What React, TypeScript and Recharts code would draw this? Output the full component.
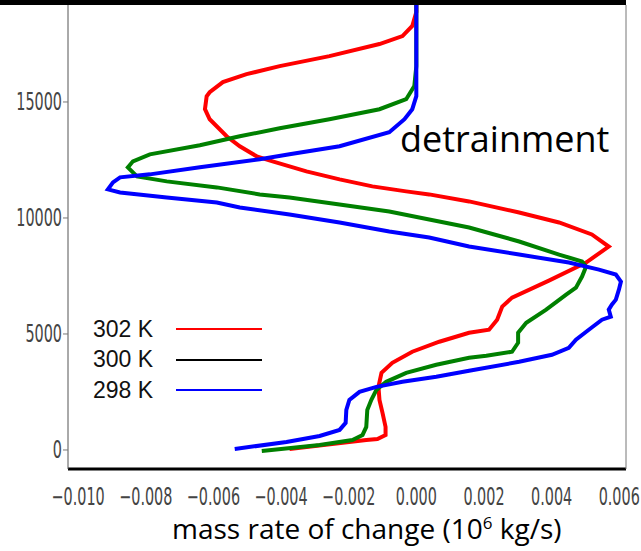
import React from 'react';
import { ScatterChart, Scatter, XAxis, YAxis } from 'recharts';

// mass rate of change (10^6 kg/s) vs height (m)
const profile302: [number, number][] = [
  [-0.00375, 43], [-0.00148, 432], [-0.00115, 475], [-0.00091, 648], [-0.00091, 994],
  [-0.001, 1598], [-0.00109, 2160], [-0.00112, 2722], [-0.00103, 3326], [-0.00071, 3758],
  [-0.00012, 4234], [0.00068, 4666], [0.00156, 5054], [0.00215, 5184], [0.00239, 5616],
  [0.00254, 6178], [0.00283, 6566], [0.00392, 7301], [0.00502, 8078], [0.00569, 8770],
  [0.00519, 9288], [0.00422, 9806], [0.00304, 10238], [0.00156, 10714], [0.00038, 11016],
  [-0.0003, 11146], [-0.0013, 11362], [-0.00227, 11664], [-0.00325, 12010], [-0.00425, 12442],
  [-0.00472, 12658], [-0.00522, 13090], [-0.00561, 13522], [-0.00611, 14256], [-0.00625, 14688],
  [-0.0062, 15250], [-0.00611, 15422], [-0.00572, 15854], [-0.00502, 16200], [-0.00404, 16546],
  [-0.00257, 16978], [-0.00109, 17496], [-0.00041, 17842], [-0.00012, 18274], [0, 18878],
  [0, 19200],
];

const profile300: [number, number][] = [
  [-0.00457, -43], [-0.00286, 216], [-0.00189, 432], [-0.00159, 648], [-0.00148, 994],
  [-0.00145, 1728], [-0.00133, 2160], [-0.00118, 2592], [-0.00089, 2938], [-0.0003, 3326],
  [0.00059, 3672], [0.00156, 3974], [0.00207, 4061], [0.00283, 4234], [0.00301, 4622],
  [0.00301, 5054], [0.00325, 5486], [0.00384, 6048], [0.00443, 6696], [0.00472, 6998],
  [0.0049, 7474], [0.00502, 7906], [0.0049, 8122], [0.00422, 8424], [0.00304, 8986],
  [0.00156, 9590], [0.00038, 9936], [-0.0008, 10282], [-0.00227, 10584], [-0.00375, 10886],
  [-0.00463, 11016], [-0.0059, 11318], [-0.00738, 11578], [-0.00826, 11794], [-0.00853, 12182],
  [-0.00838, 12442], [-0.00788, 12744], [-0.0064, 13133], [-0.00522, 13522], [-0.00404, 13867],
  [-0.00257, 14256], [-0.00109, 14688], [-0.0003, 15120], [-0.00006, 15682], [0, 16546],
  [0, 19200],
];

const profile298: [number, number][] = [
  [-0.00537, 43], [-0.00384, 346], [-0.00286, 605], [-0.00227, 864], [-0.00209, 1166],
  [-0.00207, 1728], [-0.00198, 2160], [-0.00168, 2506], [-0.00118, 2722], [-0.00041, 2938],
  [0.00059, 3154], [0.00156, 3413], [0.00304, 3802], [0.00401, 4104], [0.00451, 4406],
  [0.00472, 4752], [0.0051, 5184], [0.00549, 5616], [0.00575, 5746], [0.00569, 6048],
  [0.00578, 6264], [0.0059, 6480], [0.00599, 6912], [0.00605, 7258], [0.0059, 7560],
  [0.0054, 7776], [0.00451, 8078], [0.00304, 8424], [0.00156, 8770], [0.00038, 9158],
  [-0.0008, 9418], [-0.00227, 9806], [-0.00375, 10152], [-0.00522, 10454], [-0.0059, 10670],
  [-0.00738, 10886], [-0.00876, 11102], [-0.00912, 11232], [-0.00897, 11534], [-0.00876, 11750],
  [-0.00788, 11880], [-0.0064, 12182], [-0.00463, 12528], [-0.00375, 12744], [-0.00227, 13090],
  [-0.0008, 13694], [-0.00035, 14256], [-0.00012, 14688], [0, 15250], [0, 19200],
];

const xTicks = [-0.01, -0.008, -0.006, -0.004, -0.002, 0, 0.002, 0.004, 0.006];
const yTicks = [0, 5000, 10000, 15000];

const legendLabels = ['302 K', '300 K', '298 K'];
const legendColors = ['#ff0000', '#000000', '#0000ff'];

const toPoints = (p: [number, number][]) => p.map(([x, y]) => ({ x, y }));

const NoDot = () => <g />;

const tickFont = '"DejaVu Sans Condensed", "DejaVu Sans", sans-serif';

const fmtX = (v: number) => (v < 0 ? '\u2212' : '') + Math.abs(v).toFixed(3);

// tick labels in the source are squashed tall, so stretch them vertically
const XTick = (props: any) => {
  const { x, y, payload } = props;
  return (
    <g transform={`translate(${x},${y}) scale(1,1.5)`}>
      <text x={0} y={0} textAnchor="middle" dominantBaseline="central" fill="#444" fontSize={16} fontFamily={tickFont}>
        {fmtX(payload.value)}
      </text>
    </g>
  );
};

const YTick = (props: any) => {
  const { x, y, payload } = props;
  return (
    <g transform={`translate(${x},${y}) scale(1,1.5)`}>
      <text x={0} y={0} textAnchor="end" dominantBaseline="central" fill="#444" fontSize={16} fontFamily={tickFont}>
        {payload.value}
      </text>
    </g>
  );
};

export default function App() {
  return (
    <div style={{ position: 'absolute', left: 0, top: 0, width: 641, height: 551, background: '#fff', overflow: 'hidden' }}>
      <ScatterChart width={641} height={551} margin={{ top: 5, right: 0, bottom: 52, left: 0 }}>
        <XAxis
          type="number"
          dataKey="x"
          domain={[-0.0103, 0.0062]}
          ticks={xTicks}
          allowDataOverflow
          tick={XTick}
          tickLine={false}
          tickSize={0}
          tickMargin={28}
          height={30}
          axisLine={{ stroke: '#000', strokeWidth: 3 }}
        />
        <YAxis
          type="number"
          dataKey="y"
          domain={[-820, 19180]}
          ticks={yTicks}
          allowDataOverflow
          tick={YTick}
          tickSize={5}
          tickMargin={1}
          tickLine={{ stroke: '#777' }}
          width={68}
          axisLine={{ stroke: '#555' }}
        />
        <YAxis
          yAxisId="r"
          orientation="right"
          type="number"
          domain={[-820, 19180]}
          ticks={yTicks}
          tick={false}
          tickLine={false}
          width={15}
          axisLine={{ stroke: '#777' }}
        />
        <Scatter name="302 K" data={toPoints(profile302)} fill="#ff0000" line={{ stroke: '#ff0000', strokeWidth: 4 }} shape={NoDot} isAnimationActive={false} />
        <Scatter name="300 K" data={toPoints(profile300)} fill="#008000" line={{ stroke: '#008000', strokeWidth: 4 }} shape={NoDot} isAnimationActive={false} />
        <Scatter name="298 K" data={toPoints(profile298)} fill="#0000ff" line={{ stroke: '#0000ff', strokeWidth: 4 }} shape={NoDot} isAnimationActive={false} />
      </ScatterChart>
      <div style={{ position: 'absolute', left: 0, top: 0, width: 626, height: 5, background: '#000' }} />
      <div style={{ position: 'absolute', left: 93, top: 314, fontFamily: '"Liberation Sans", Arial, sans-serif', fontSize: 23, color: '#111' }}>
        {legendLabels.map((l, i) => (
          <div key={l} style={{ display: 'flex', alignItems: 'center', height: 30.5 }}>
            <span style={{ width: 64 }}>{l}</span>
            <span style={{ display: 'inline-block', marginLeft: 19, width: 86, height: 2, background: legendColors[i] }} />
          </div>
        ))}
      </div>
      <div style={{ position: 'absolute', left: 400, top: 121, fontFamily: '"Open Sans", sans-serif', fontSize: 36, color: '#000', lineHeight: 1 }}>
        detrainment
      </div>
      <div style={{ position: 'absolute', left: 172, top: 514, fontFamily: '"Open Sans", sans-serif', fontSize: 28, color: '#000', lineHeight: 1, whiteSpace: 'nowrap' }}>
        mass rate of change (10<sup style={{ fontSize: 17 }}>6</sup> kg/s)
      </div>
    </div>
  );
}
